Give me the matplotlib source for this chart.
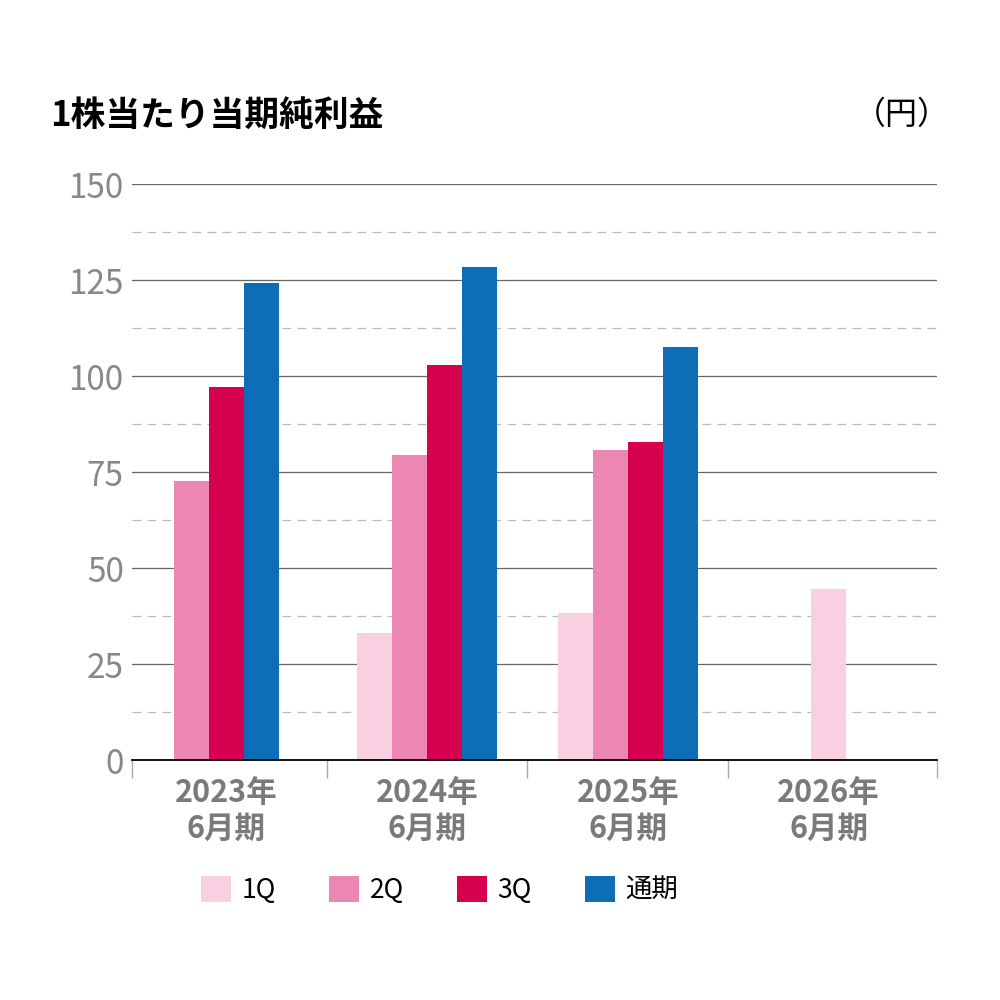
import matplotlib
matplotlib.use("Agg")
import matplotlib.pyplot as plt
from matplotlib.patches import Patch
import numpy as np

plt.rcParams['font.family'] = ['Noto Sans CJK JP', 'DejaVu Sans']

categories = ["2023年\n6月期", "2024年\n6月期", "2025年\n6月期", "2026年\n6月期"]
series_names = ["1Q", "2Q", "3Q", "通期"]
q1 = [None, 33.2, 38.2, 44.6]
q2 = [72.7, 79.4, 80.7, None]
q3 = [97.1, 102.9, 82.8, None]
full = [124.2, 128.4, 107.6, None]
colors = ["#F8D0E2", "#EC87B3", "#D6004F", "#0E6DB7"]
yticks = [0, 25, 50, 75, 100, 125, 150]
title = "1株当たり当期純利益"
unit = "（円）"

series = [q1, q2, q3, full]

fig = plt.figure(figsize=(10, 10), dpi=100)
ax = fig.add_axes([0.132, 0.24, 0.805, 0.576])

width = 0.1744
for ci in range(len(categories)):
    present = [si for si in range(len(series)) if series[si][ci] is not None]
    n = len(present)
    for k, si in enumerate(present):
        x = ci + (k - (n - 1) / 2) * width
        ax.bar(x, series[si][ci], width=width, color=colors[si], zorder=3, linewidth=0)

ax.set_xlim(-0.47, len(categories) - 0.46)
ax.set_ylim(0, 150)

# gridlines
for v in yticks[1:]:
    ax.axhline(v, color="#666666", linewidth=0.9, zorder=1)
for v in np.array(yticks[:-1]) + 12.5:
    ax.axhline(v, color="#BBBBBB", linewidth=0.9, linestyle=(0, (7, 5)), zorder=1)

for s in ["top", "right", "left"]:
    ax.spines[s].set_visible(False)
ax.spines["bottom"].set_color("black")
ax.spines["bottom"].set_linewidth(1.3)
ax.spines["bottom"].set_zorder(4)

ax.set_yticks(yticks)
ax.set_yticklabels([str(v) for v in yticks], fontsize=24, color="#888888")
ax.tick_params(axis="y", length=0, pad=6)

ax.set_xticks(range(len(categories)))
ax.set_xticklabels(categories, fontsize=22, color="#7A7A7A", fontweight="bold", linespacing=1.15)
ax.tick_params(axis="x", which="major", length=0, pad=12)
lo, hi = ax.get_xlim()
minor = [lo] + list(np.arange(0.5, len(categories) - 1)) + [hi]
ax.set_xticks(minor, minor=True)
ax.tick_params(axis="x", which="minor", length=13, width=1.0, color="#AAAAAA", direction="out")

fig.text(0.05, 0.885, title, fontsize=25, fontweight="bold", color="black", ha="left", va="center")
fig.text(0.95, 0.885, unit, fontsize=23, fontweight="normal", color="black", ha="right", va="center")

handles = [Patch(facecolor=c, edgecolor="none") for c in colors]
fig.legend(handles, series_names, loc="center left", bbox_to_anchor=(0.201, 0.11),
           ncol=4, frameon=False, fontsize=19, handlelength=1.15, handleheight=1.15,
           handletextpad=0.4, columnspacing=2.0, borderpad=0, borderaxespad=0)

fig.savefig("out.png", dpi=100, facecolor="white")
